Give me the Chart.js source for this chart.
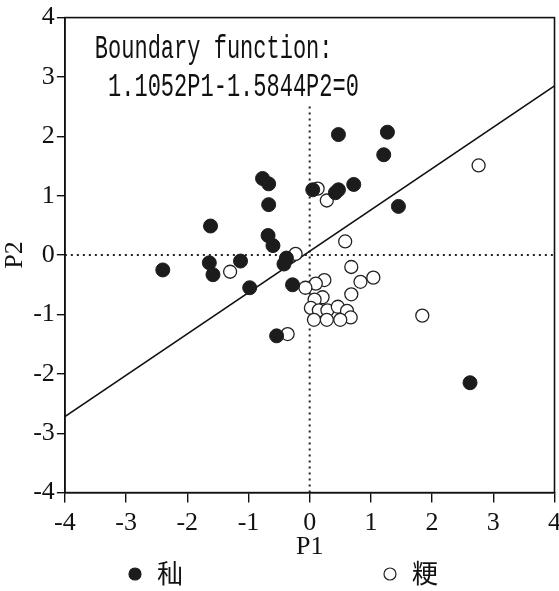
<!DOCTYPE html>
<html>
<head>
<meta charset="utf-8">
<script src="https://cdn.jsdelivr.net/npm/chart.js@4/dist/chart.umd.min.js"></script>
<style>
html, body { margin: 0; padding: 0; background: #fff; overflow: hidden; }
</style>
</head>
<body>
<!-- a little wider than the window so the last x label is cut off at the edge -->
<canvas id="boundaryChart" width="566" height="591"></canvas>
<script>
// 秈 (filled) samples
const indicaP1 = [-2.4, -1.62, -1.64, -1.58, -1.13, -0.98, -0.77, -0.67, -0.67, -0.68, -0.6, -0.38, -0.42, -0.28,
    0.05, 0.42, 0.47, 0.47, 0.72, 1.27, 1.21, 1.45, -0.54, 2.62];
const indicaP2 = [-0.25, 0.49, -0.13, -0.33, -0.1, -0.55, 1.29, 1.2, 0.85, 0.33, 0.16, -0.05, -0.15, -0.5,
    1.1, 1.05, 1.1, 2.03, 1.19, 2.07, 1.69, 0.82, -1.36, -2.15];

// 粳 (open) samples
const japonicaP1 = [0.58, -0.23, 0.68, 0.24, 0.1, -0.07, 0.83, 1.04, 0.68, 0.21, 0.08, 0.02, 0.15, 0.29,
    0.46, 0.61, 0.67, 0.5, 0.28, 0.07, 1.84, -0.36, 0.13, 0.28, 2.76, -1.3];
const japonicaP2 = [0.23, 0.02, -0.2, -0.42, -0.48, -0.55, -0.45, -0.38, -0.66, -0.71, -0.75, -0.89, -0.93, -0.93,
    -0.87, -0.94, -1.05, -1.09, -1.09, -1.09, -1.02, -1.33, 1.12, 0.92, 1.51, -0.28];

const seriesNames = ['秈', '粳'];
const tickValues = [-4, -3, -2, -1, 0, 1, 2, 3, 4];

// boundary line ends, and the two dotted reference lines
const boundaryP1 = [-4, 4];
const boundaryP2 = [-2.72, 2.85];
const hRefP1 = [-4, 4];
const hRefP2 = [0, 0];
const vRefP1 = [0, 0];
const vRefP2 = [-4, 2.55];

const equationLines = ['Boundary function:', ' 1.1052P1-1.5844P2=0'];

const toPoints = (xs, ys) => xs.map((x, i) => ({ x: x, y: ys[i] }));

const labelFont = { family: "'Liberation Serif', 'DejaVu Serif', serif", size: 26 };

const frameAndText = {
    id: 'frameAndText',
    afterDatasetsDraw(chart) {
        const ctx = chart.ctx;
        const area = chart.chartArea;
        ctx.save();
        ctx.strokeStyle = '#111';
        ctx.lineWidth = 1.6;
        ctx.strokeRect(area.left, area.top, area.right - area.left, area.bottom - area.top);

        // equation text, tall monospace look
        ctx.fillStyle = '#111';
        ctx.font = "22px 'Liberation Mono', monospace";
        ctx.textBaseline = 'alphabetic';
        ctx.textAlign = 'left';
        equationLines.forEach((line, i) => {
            ctx.save();
            ctx.translate(area.left + 30, area.top + 40 + i * 38);
            ctx.scale(1, 1.5);
            ctx.fillText(line, 0, 0);
            ctx.restore();
        });
        ctx.restore();
    }
};

const bottomLegend = {
    id: 'bottomLegend',
    afterDraw(chart) {
        const ctx = chart.ctx;
        const y = chart.height - 17;
        const slots = [135, 390];
        ctx.save();
        ctx.font = "26px 'Noto Sans CJK SC', sans-serif";
        ctx.textBaseline = 'middle';
        ctx.textAlign = 'left';
        slots.forEach((x, i) => {
            const ds = chart.data.datasets[i];
            ctx.beginPath();
            ctx.arc(x, y, 6, 0, Math.PI * 2);
            ctx.fillStyle = ds.pointBackgroundColor;
            ctx.fill();
            ctx.lineWidth = 1.2;
            ctx.strokeStyle = ds.pointBorderColor;
            ctx.stroke();
            ctx.fillStyle = '#111';
            ctx.fillText(seriesNames[i], x + 22, y - 1);
        });
        ctx.restore();
    }
};

const ctx = document.getElementById('boundaryChart').getContext('2d');

new Chart(ctx, {
    type: 'scatter',
    data: {
        datasets: [
            {
                label: seriesNames[0],
                data: toPoints(indicaP1, indicaP2),
                pointRadius: 7,
                pointBackgroundColor: '#1c1c1c',
                pointBorderColor: '#1c1c1c',
                pointBorderWidth: 1
            },
            {
                label: seriesNames[1],
                data: toPoints(japonicaP1, japonicaP2),
                pointRadius: 6.5,
                pointBackgroundColor: '#ffffff',
                pointBorderColor: '#222',
                pointBorderWidth: 1.3
            },
            {
                label: 'boundary',
                data: toPoints(boundaryP1, boundaryP2),
                showLine: true,
                pointRadius: 0,
                borderColor: '#111',
                borderWidth: 1.7
            },
            {
                label: 'P2 = 0',
                data: toPoints(hRefP1, hRefP2),
                showLine: true,
                pointRadius: 0,
                borderColor: '#222',
                borderWidth: 2,
                borderDash: [2, 4]
            },
            {
                label: 'P1 = 0',
                data: toPoints(vRefP1, vRefP2),
                showLine: true,
                pointRadius: 0,
                borderColor: '#222',
                borderWidth: 2,
                borderDash: [2, 4]
            }
        ]
    },
    options: {
        responsive: false,
        animation: false,
        devicePixelRatio: 1,
        layout: {
            padding: { left: 0, right: 0, top: 0, bottom: 28 }
        },
        plugins: {
            legend: { display: false },
            tooltip: { enabled: false }
        },
        scales: {
            x: {
                type: 'linear',
                min: -4,
                max: 4,
                afterBuildTicks: axis => { axis.ticks = tickValues.map(v => ({ value: v })); },
                ticks: { color: '#111', font: labelFont, padding: 5, maxRotation: 0 },
                grid: { drawOnChartArea: false, tickLength: 10, color: '#111', lineWidth: 1.4 },
                border: { color: '#111', width: 1.6 },
                title: { display: true, text: 'P1', color: '#111', font: labelFont, padding: { top: -12, bottom: 0 } }
            },
            y: {
                type: 'linear',
                min: -4,
                max: 4,
                afterBuildTicks: axis => { axis.ticks = tickValues.map(v => ({ value: v })); },
                ticks: { color: '#111', font: labelFont, padding: 2 },
                grid: { drawOnChartArea: false, tickLength: 8, color: '#111', lineWidth: 1.4 },
                border: { color: '#111', width: 1.6 },
                title: { display: true, text: 'P2', color: '#111', font: labelFont, padding: { top: 0, bottom: 0 } }
            }
        }
    },
    plugins: [frameAndText, bottomLegend]
});
</script>
</body>
</html>
